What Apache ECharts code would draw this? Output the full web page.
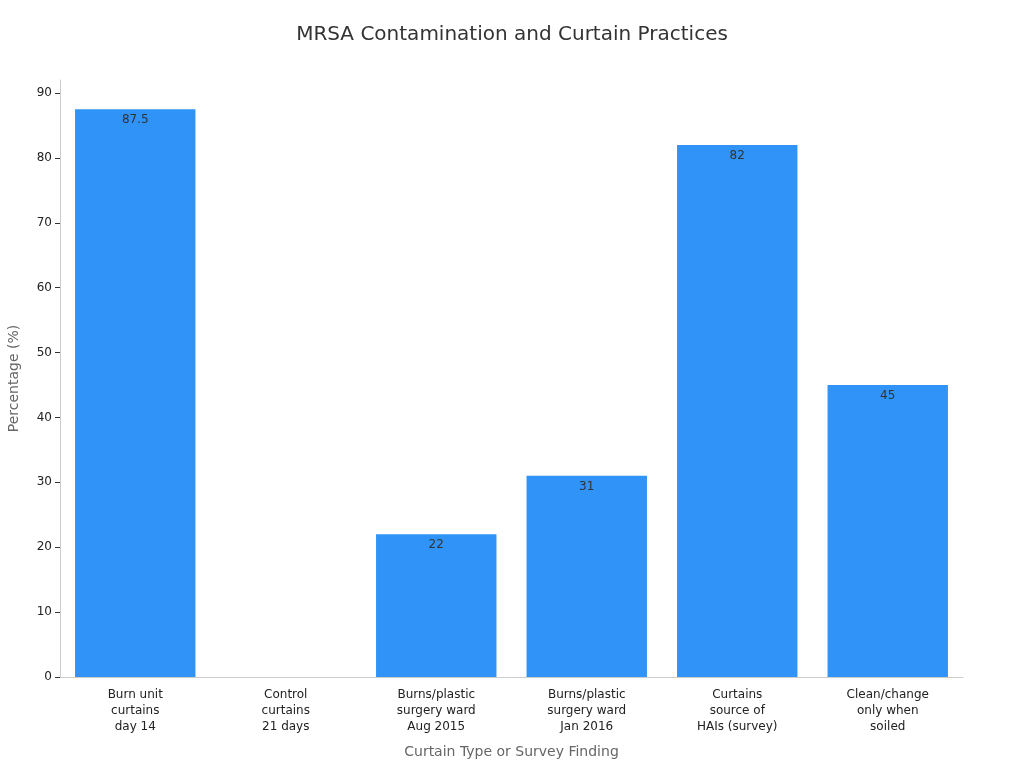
<!DOCTYPE html>
<html>
<head>
<meta charset="utf-8">
<script src="https://cdn.jsdelivr.net/npm/echarts@6/dist/echarts.min.js"></script>
<style>
  html, body { margin: 0; padding: 0; background: #fff; }
  #main { width: 1024px; height: 768px; }
</style>
</head>
<body>
<div id="main"></div>
<script>
var categories = [
    'Burn unit\ncurtains\nday 14',
    'Control\ncurtains\n21 days',
    'Burns/plastic\nsurgery ward\nAug 2015',
    'Burns/plastic\nsurgery ward\nJan 2016',
    'Curtains\nsource of\nHAIs (survey)',
    'Clean/change\nonly when\nsoiled'
];
var values = [87.5, 0, 22, 31, 82, 45];
var yTicks = [0, 10, 20, 30, 40, 50, 60, 70, 80, 90];

var chart = echarts.init(document.getElementById('main'));
chart.setOption({
    animation: false,
    textStyle: {fontFamily: 'DejaVu Sans'},
    title: {
        text: 'MRSA Contamination and Curtain Practices',
        left: 'center',
        top: 20,
        textStyle: {fontSize: 20, fontWeight: 'normal', color: '#333'}
    },
    grid: {left: 60, right: 61, top: 80, bottom: 91, outerBoundsMode: 'none'},
    xAxis: {
        type: 'category',
        data: categories,
        name: 'Curtain Type or Survey Finding',
        nameLocation: 'middle',
        nameGap: 68,
        nameTextStyle: {fontSize: 14, color: '#666'},
        axisLine: {lineStyle: {color: '#ccc'}},
        axisTick: {alignWithLabel: true, lineStyle: {color: '#999'}},
        axisLabel: {fontSize: 12, color: '#222', lineHeight: 16, margin: 10}
    },
    yAxis: {
        type: 'value',
        min: 0,
        max: 92,
        interval: 10,
        name: 'Percentage (%)',
        nameLocation: 'middle',
        nameGap: 39,
        nameTextStyle: {fontSize: 14, color: '#666'},
        axisLine: {show: true, lineStyle: {color: '#ccc'}},
        axisTick: {show: true, customValues: yTicks, lineStyle: {color: '#333'}},
        axisLabel: {fontSize: 12, color: '#222', customValues: yTicks},
        splitLine: {show: false}
    },
    series: [{
        type: 'bar',
        data: values,
        barWidth: '80%',
        itemStyle: {color: '#2F93F8'},
        label: {
            show: true,
            position: 'insideTop',
            fontSize: 12,
            color: '#333',
            formatter: function (p) { return p.value === 0 ? '' : p.value; }
        }
    }]
});
</script>
</body>
</html>
